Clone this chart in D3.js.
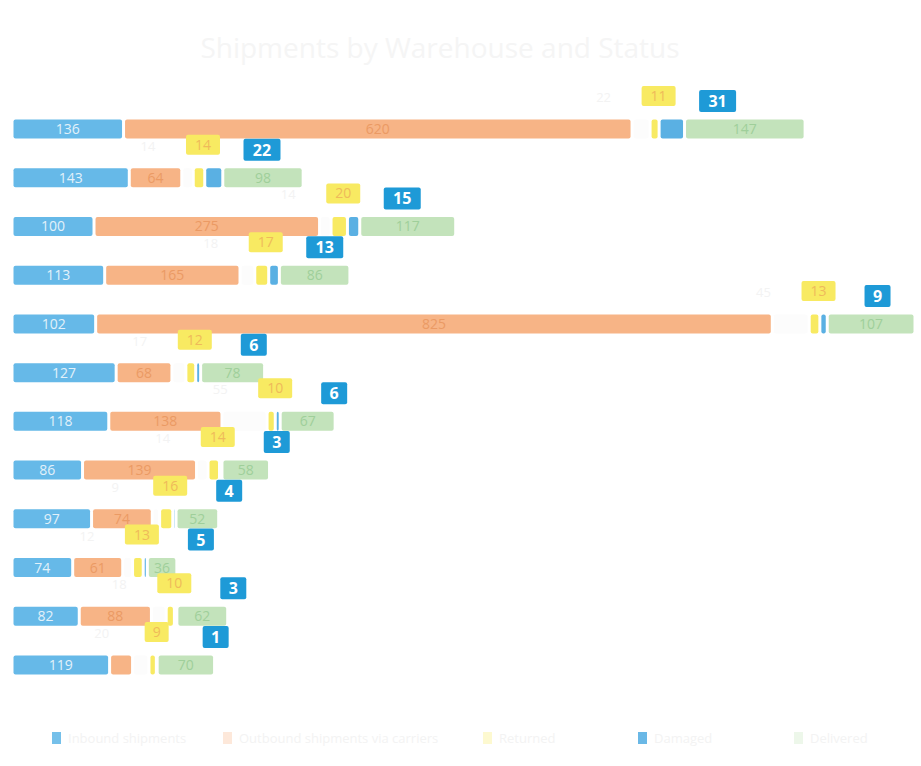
<!DOCTYPE html>
<html><head><meta charset="utf-8">
<script src="https://cdn.jsdelivr.net/npm/d3@7"></script>
<style>body{margin:0;background:#fff;}svg{display:block;font-family:"Open Sans","DejaVu Sans",sans-serif;}</style>
</head><body><svg id="chart" width="921" height="766"></svg>
<script>
const categories = ["W01","W02","W03","W04","W05","W06","W07","W08","W09","W10","W11","W12"];
const inbound   = [136,143,100,113,102,127,118,86,97,74,82,119];
const outbound  = [620,64,275,165,825,68,138,139,74,61,88,28];
const pending   = [22,14,14,18,45,17,55,14,9,12,18,20];
const returned  = [11,14,20,17,13,12,10,14,16,13,10,9];
const damaged   = [31,22,15,13,9,6,6,3,4,5,3,1];
const delivered = [147,98,117,86,107,78,67,58,52,36,62,70];
const seriesNames = ["Inbound shipments","Outbound shipments via carriers","Pending","Returned","Damaged","Delivered"];
const title = "Shipments by Warehouse and Status";

const keys = ["inbound","outbound","pending","returned","damaged","delivered"];
const colors = {inbound:"#66b9e8",outbound:"#f7b486",pending:"#fcfcfc",returned:"#f8ea62",damaged:"#5ab0e3",delivered:"#c3e3bb"};
const textColors = {inbound:"#e2f1fa",outbound:"#eb9a64",delivered:"#9fcf9a"};

const rows = categories.map((c,i)=>({cat:c,inbound:inbound[i],outbound:outbound[i],pending:pending[i],returned:returned[i],damaged:damaged[i],delivered:delivered[i]}));
const stack = d3.stack().keys(keys)(rows);
const totals = rows.map(r=>keys.reduce((s,k)=>s+r[k],0));

const svg = d3.select("#chart");
const x = d3.scaleLinear().domain([0,d3.max(totals)]).range([12,915]);
const y = d3.scalePoint().domain(categories).range([129,665]);
const bh = 19;

svg.append("text").attr("x",440).attr("y",58).attr("text-anchor","middle")
  .attr("font-size",28).attr("fill","#f5f5f5").text(title);

const g = svg.append("g");
stack.forEach(layer=>{
  const k = layer.key;
  g.selectAll(null).data(layer).join("rect")
    .attr("x",d=>x(d[0])+1.5)
    .attr("y",d=>y(d.data.cat)-bh/2)
    .attr("width",d=>Math.max(0,x(d[1])-x(d[0])-3))
    .attr("height",bh).attr("rx",2)
    .attr("fill",colors[k]);
  if(textColors[k]){
    g.selectAll(null).data(layer.filter(d=>x(d[1])-x(d[0])>26)).join("text")
      .attr("x",d=>(x(d[0])+x(d[1]))/2).attr("y",d=>y(d.data.cat)+5)
      .attr("text-anchor","middle").attr("font-size",14)
      .attr("fill",textColors[k]).text(d=>d[1]-d[0]);
  }
});

// labels above bars for small segments
const lab = svg.append("g");
const yl = stack[3], bl = stack[4], pl = stack[2];
yl.forEach((d,i)=>{
  const cy = y(d.data.cat);
  const cx = (x(d[0])+x(d[1]))/2 + 4;
  const vY = d[1]-d[0], vB = bl[i][1]-bl[i][0], vP = pl[i][1]-pl[i][0];
  const wY = String(vY).length>1?34:24;
  lab.append("rect").attr("x",cx-wY/2).attr("y",cy-43).attr("width",wY).attr("height",20).attr("rx",2).attr("fill","#f8ea62");
  lab.append("text").attr("x",cx).attr("y",cy-28).attr("text-anchor","middle").attr("font-size",14).attr("fill","#efba5a").text(vY);
  const bx = cx + 59;
  const wB = String(vB).length>1?37:26;
  lab.append("rect").attr("x",bx-wB/2).attr("y",cy-39).attr("width",wB).attr("height",22).attr("rx",2).attr("fill","#1e9ad7");
  lab.append("text").attr("x",bx).attr("y",cy-22).attr("text-anchor","middle").attr("font-size",16).attr("font-weight","bold").attr("fill","#fff").text(vB);
  lab.append("text").attr("x",cx-55).attr("y",cy-27).attr("text-anchor","middle").attr("font-size",13).attr("fill","#f3f3f3").text(vP);
});

// legend
const legKeys = ["inbound","outbound","returned","damaged","delivered"];
const legX = [52,223,483,638,794];
const leg = svg.append("g");
legKeys.forEach((k,i)=>{
  const gi = leg.append("g").attr("transform",`translate(${legX[i]},738)`);
  gi.append("rect").attr("x",0).attr("y",-6).attr("width",9).attr("height",12).attr("fill",colors[k]).attr("opacity",k==="damaged"||k==="inbound"?0.9:0.3);
  gi.append("text").attr("x",16).attr("y",5).attr("font-size",13).attr("fill","#f3f3f3").text(seriesNames[keys.indexOf(k)]);
});
</script></body></html>
